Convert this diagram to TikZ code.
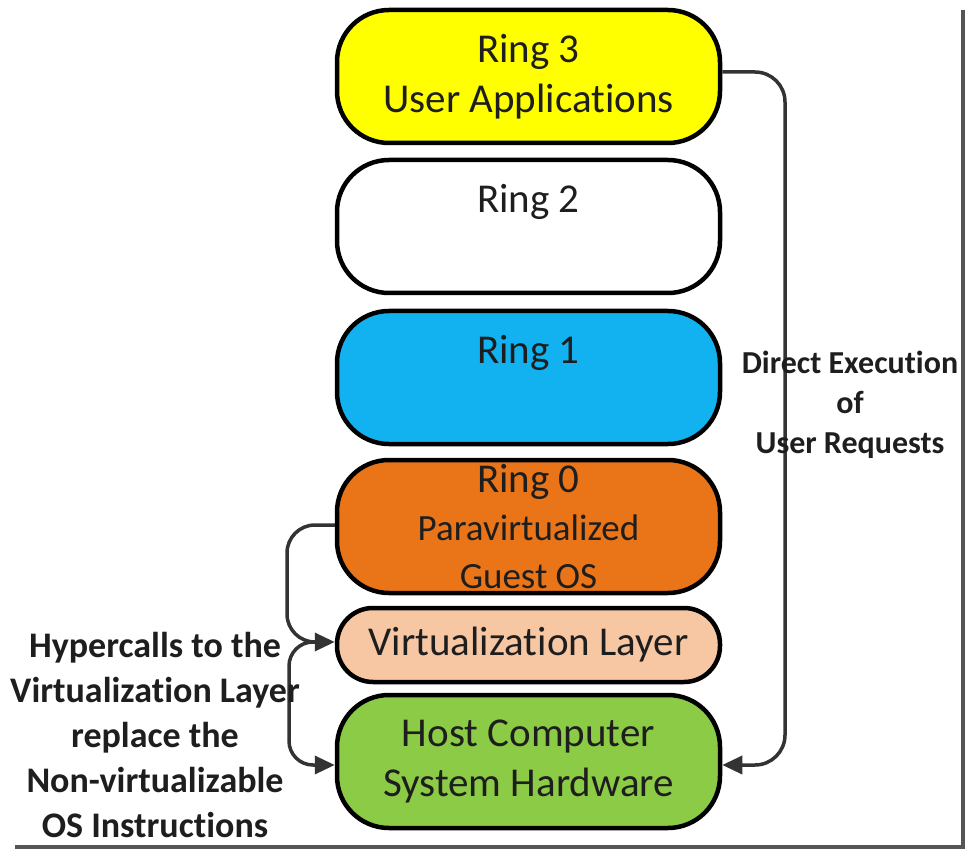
\documentclass[tikz,border=0pt]{standalone}
\usepackage{fontspec}
\setmainfont{Carlito}[Ligatures=NoCommon]
\usetikzlibrary{arrows.meta}
\definecolor{ryellow}{HTML}{FFFF00}
\definecolor{rblue}{HTML}{12B2F0}
\definecolor{rorange}{HTML}{EA7519}
\definecolor{rpeach}{HTML}{F7C6A3}
\definecolor{rgreen}{HTML}{8CCB45}
\definecolor{txt}{HTML}{1E1E1E}
\definecolor{lin}{HTML}{333333}
\definecolor{frm}{HTML}{555555}
\tikzset{
  ringbox/.style={draw=black, line width=4.5pt, rounded corners=52pt,
    minimum width=383pt, minimum height=133pt, align=center, text=txt,
    font=\fontsize{41}{50}\selectfont, inner sep=0pt},
  thinbox/.style={ringbox, minimum height=74pt, rounded corners=36pt},
  conn/.style={draw=lin, line width=3.5pt, -{Triangle[length=20pt,width=18pt]}},
  note/.style={align=center, text=txt, font=\fontsize{32}{40}\selectfont\bfseries},
  bignote/.style={align=center, text=txt, font=\fontsize{36}{45}\selectfont\bfseries},
}
\begin{document}
\begin{tikzpicture}[x=1pt,y=-1pt]
\useasboundingbox (0,0) rectangle (967,850);
\fill[white] (0,0) rectangle (967,850);
% frame
\draw[frm, line width=4pt] (963,10) -- (963,847) -- (15,847);
% boxes
\node[ringbox, fill=ryellow] (r3) at (528.5,76.5) {Ring 3\\User Applications};
\node[ringbox, fill=white] (r2) at (528.5,226.5) {Ring 2\\\phantom{Ring}};
\node[ringbox, fill=rblue] (r1) at (528.5,377.5) {Ring 1\\\phantom{Ring}};
\node[ringbox, fill=rorange, font=\fontsize{37}{48}\selectfont] (r0) at (528.5,526.5)
  {{\fontsize{41}{48}\selectfont Ring 0}\\Paravirtualized\\Guest OS};
\node[thinbox, fill=rpeach] (vl) at (528.5,645) {Virtualization Layer};
\node[ringbox, fill=rgreen] (hw) at (528.5,761.5) {Host Computer\\System Hardware};
% right connector
\coordinate (rs) at ([yshift=4.5pt]r3.east);
\coordinate (re) at ([yshift=-3.5pt]hw.east);
\draw[conn, rounded corners=30pt] (rs) -- (785,72) -- (785,765) -- (re);
\node[note] (dl) at (850,405) {Direct Execution\\of\\User Requests};
% left connectors
\coordinate (ls) at ([yshift=1.5pt]r0.west);
\coordinate (le) at ([yshift=3pt]vl.west);
\draw[conn, rounded corners=28pt] (ls) -- (287,525) -- (287,642) -- (le);
\coordinate (br) at (318,642);
\coordinate (he) at ([yshift=-3.5pt]hw.west);
\draw[conn, rounded corners=24pt] (br) -- (289,642) -- (289,765) -- (he);
\node[bignote] (hl) at (155,735) {Hypercalls to the\\Virtualization Layer\\replace the\\Non-virtualizable\\OS Instructions};
\end{tikzpicture}
\end{document}
